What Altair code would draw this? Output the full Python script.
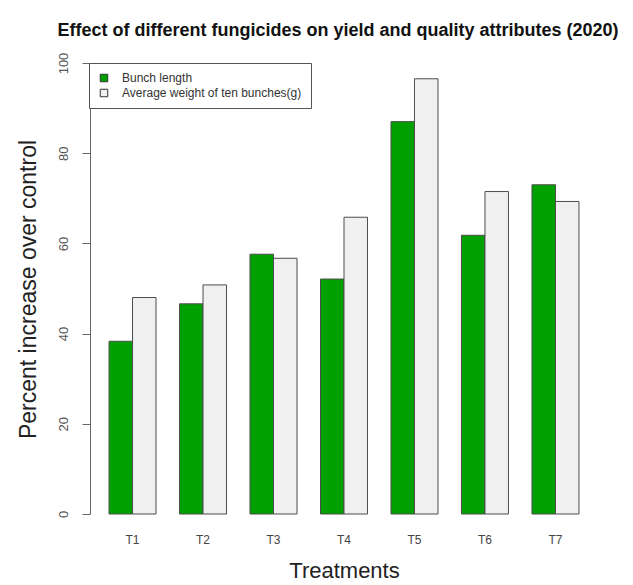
import altair as alt
import pandas as pd

treatments = ["T1", "T2", "T3", "T4", "T5", "T6", "T7"]
bunch_length = [38.3, 46.6, 57.6, 52.1, 87.0, 61.8, 73.0]
avg_weight = [48.0, 50.8, 56.7, 65.8, 96.5, 71.5, 69.3]
series_names = ["Bunch length", "Average weight of ten bunches(g)"]
y_ticks = [0, 20, 40, 60, 80, 100]

rows = []
for t, b, w in zip(treatments, bunch_length, avg_weight):
    rows.append({"treatment": t, "series": series_names[0], "value": b})
    rows.append({"treatment": t, "series": series_names[1], "value": w})
df = pd.DataFrame(rows)

FONT = "Liberation Sans"

chart = alt.Chart(df).mark_bar(stroke="#4d4d4d", strokeWidth=1).encode(
    x=alt.X(
        "treatment:N",
        sort=treatments,
        scale=alt.Scale(paddingInner=1 / 3, paddingOuter=0.27),
        axis=alt.Axis(
            title="Treatments", labelAngle=0, domain=False, ticks=False,
            labelPadding=20, labelFontSize=12, labelColor="#444",
            titleFontSize=22, titleFontWeight="normal", titleColor="#222",
            titleX=254, titleY=56, titleBaseline="middle", titleAlign="center",
        ),
    ),
    xOffset=alt.XOffset(
        "series:N", sort=series_names,
        scale=alt.Scale(paddingInner=0, paddingOuter=0),
    ),
    y=alt.Y(
        "value:Q",
        scale=alt.Scale(domain=[0, 100], nice=False, zero=True),
        axis=alt.Axis(
            title="Percent increase over control", values=y_ticks, grid=False,
            tickSize=8, tickColor="#666", domainColor="#666",
            labelAngle=270, labelAlign="center", labelBaseline="middle",
            labelPadding=19, labelFontSize=13, labelColor="#555",
            titleFontSize=23, titleFontWeight="normal", titleColor="#222",
            titleX=-62, titleY=226, titleAngle=270,
            titleAlign="center", titleBaseline="middle",
        ),
    ),
    color=alt.Color(
        "series:N",
        scale=alt.Scale(domain=series_names, range=["#00a000", "#f0f0f0"]),
        legend=alt.Legend(
            title=None, orient="none", legendX=-1, legendY=0,
            symbolType="square", symbolSize=56, symbolStrokeColor="#333",
            symbolStrokeWidth=1, strokeColor="#555", fillColor="white",
            padding=9, labelFontSize=12, labelOffset=12, rowPadding=3,
            labelColor="#333", labelLimit=400,
        ),
    ),
).properties(
    width=508,
    height=451,
    padding={"left": 82, "top": 55, "right": 27, "bottom": 68},
    autosize=alt.AutoSizeParams(type="none"),
    title=alt.TitleParams(
        "Effect of different fungicides on yield and quality attributes (2020)",
        fontSize=18, fontWeight="bold", font=FONT, anchor="middle",
        offset=12, dx=-6, color="#111",
    ),
).configure(font=FONT).configure_view(stroke=None)

chart.save("out.html", embed_options={"renderer": "svg", "actions": False})
